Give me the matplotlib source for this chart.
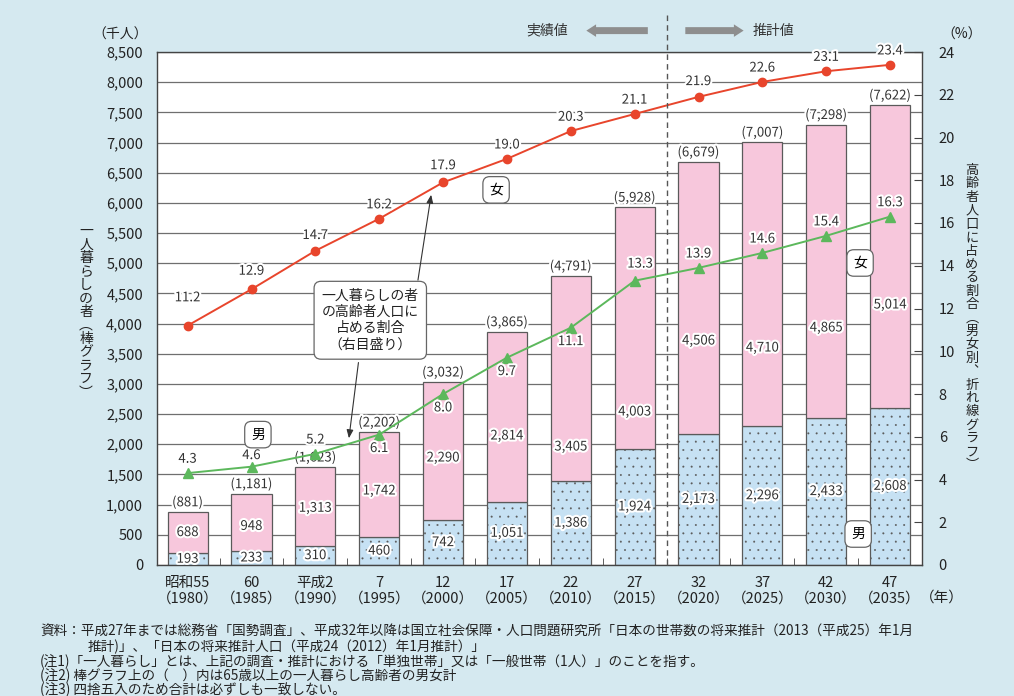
import matplotlib
matplotlib.use("Agg")
import matplotlib.pyplot as plt
import matplotlib.patheffects as pe
import numpy as np

plt.rcParams['font.family'] = ['Noto Sans CJK JP', 'DejaVu Sans']
plt.rcParams['hatch.color'] = '#b3c9db'
plt.rcParams['hatch.linewidth'] = 0.2

# data
years = ["昭和55\n（1980）", "60\n（1985）", "平成2\n（1990）", "7\n（1995）", "12\n（2000）", "17\n（2005）",
         "22\n（2010）", "27\n（2015）", "32\n（2020）", "37\n（2025）", "42\n（2030）", "47\n（2035）"]
male = [193, 233, 310, 460, 742, 1051, 1386, 1924, 2173, 2296, 2433, 2608]
female = [688, 948, 1313, 1742, 2290, 2814, 3405, 4003, 4506, 4710, 4865, 5014]
total = [881, 1181, 1623, 2202, 3032, 3865, 4791, 5928, 6679, 7007, 7298, 7622]
female_pct = [11.2, 12.9, 14.7, 16.2, 17.9, 19.0, 20.3, 21.1, 21.9, 22.6, 23.1, 23.4]
male_pct = [4.3, 4.6, 5.2, 6.1, 8.0, 9.7, 11.1, 13.3, 13.9, 14.6, 15.4, 16.3]

# label placement (layout only)
female_label_y = [537, 640, 940, 1226, 1773, 2137, 1955, 2535, 3711, 3595, 3927, 4308]
female_pct_dy = [20, 13, 11, 10, 12, 10, 10, 10, 11, 10, 10, 10]
male_pct_dy = [10, 8, 10, -10, -10, -10, -10, 12, 10, 10, 10, 10]
male_pct_dx = [0, 0, 0, 0, 0, 0, 0, 4, 0, 0, 0, 0]

PINK = '#f7c7dc'
BLUE = '#c6e1f3'
BG = '#d5e9f0'
RED = '#e8452c'
GREEN = '#5cb85c'

fig = plt.figure(figsize=(10.14, 6.96), dpi=100, facecolor=BG)
ax = fig.add_axes([157/1014, 1-565/696, (922-157)/1014, (565-52)/696])
ax.set_facecolor('white')

x = np.arange(len(years))
w = 0.63
ax.bar(x, male, w, color=BLUE, edgecolor='#5a5a5a', linewidth=0.9, hatch='..', zorder=2)
ax.bar(x, female, w, bottom=male, color=PINK, edgecolor='#5a5a5a', linewidth=0.9, zorder=2)

ax.set_ylim(0, 8500)
ax.set_xlim(-0.48, 11.5)
ax.set_yticks(np.arange(0, 8501, 500))
ax.set_yticklabels([f"{v:,}" for v in range(0, 8501, 500)], fontsize=10.5, color='#222222')
ax.yaxis.grid(True, color='#6f6f6f', linewidth=0.9, zorder=0)
ax.set_axisbelow(True)
ax.tick_params(axis='y', length=0, pad=10)
ax.set_xticks(x)
ax.set_xticklabels(years, fontsize=10.5, color='#222222', linespacing=1.15)
ax.tick_params(axis='x', length=0, pad=8)
ax.set_xticks(x[:-1] + 0.5, minor=True)
ax.tick_params(axis='x', which='minor', direction='in', length=5, color='#444444')
for s in ax.spines.values():
    s.set_color('#444444')
    s.set_linewidth(1.0)

halo = [pe.withStroke(linewidth=3, foreground='white')]
for i in range(len(x)):
    ax.text(x[i], male[i] / 2, f"{male[i]:,}", ha='center', va='center', fontsize=9.5,
            color='#333333', zorder=5, path_effects=halo)
    ax.text(x[i], female_label_y[i], f"{female[i]:,}", ha='center', va='center', fontsize=9.5,
            color='#333333', zorder=5, path_effects=halo)
    ax.text(x[i], total[i] + 150, f"({total[i]:,})", ha='center', va='center', fontsize=9.5,
            color='#333333', zorder=5, path_effects=halo)

ax2 = ax.twinx()
ax2.set_ylim(0, 24)
ax2.set_yticks(np.arange(0, 25, 2))
ax2.tick_params(axis='y', direction='in', length=6, pad=12, labelsize=10.5, colors='#444444',
                labelcolor='#222222')
for s in ax2.spines.values():
    s.set_visible(False)

ax2.plot(x, female_pct, color=RED, lw=1.4, marker='o', ms=6, zorder=4)
ax2.plot(x, male_pct, color=GREEN, lw=1.4, marker='^', ms=6.5, zorder=4)
for i in range(len(x)):
    ax2.annotate(f"{female_pct[i]:.1f}", (x[i], female_pct[i]), xytext=(0, female_pct_dy[i]),
                 textcoords='offset points', ha='center', va='center', fontsize=9.5, color='#333333',
                 path_effects=halo, zorder=6)
    ax2.annotate(f"{male_pct[i]:.1f}", (x[i], male_pct[i]), xytext=(male_pct_dx[i], male_pct_dy[i]),
                 textcoords='offset points', ha='center', va='center', fontsize=9.5, color='#333333',
                 path_effects=halo, zorder=6)

# dashed divider between actual and projected values
ax2.plot([7.5, 7.5], [0, 25.9], ls=(0, (4, 3)), color='#555555', lw=1.0, clip_on=False, zorder=7)
ax2.text(5.95, 25.0, "実績値", ha='right', va='center', fontsize=10, color='#333333')
ax2.annotate('', xy=(6.2, 25.0), xytext=(7.25, 25.0), annotation_clip=False,
             arrowprops=dict(arrowstyle='simple,head_width=0.9,head_length=0.7,tail_width=0.5',
                             color='#8e8e8e', lw=0))
ax2.annotate('', xy=(8.75, 25.0), xytext=(7.75, 25.0), annotation_clip=False,
             arrowprops=dict(arrowstyle='simple,head_width=0.9,head_length=0.7,tail_width=0.5',
                             color='#8e8e8e', lw=0))
ax2.text(8.85, 25.0, "推計値", ha='left', va='center', fontsize=10, color='#333333')

box = dict(boxstyle='round,pad=0.45,rounding_size=0.5', fc='white', ec='#666666', lw=0.9)
for tx, ty, s in [(4.83, 17.55, "女"), (10.53, 14.13, "女"), (1.1, 6.1, "男"), (10.5, 1.45, "男")]:
    ax2.text(tx, ty, s, ha='center', va='center', fontsize=10, bbox=box, zorder=8)

ax2.text(2.86, 11.45, "一人暮らしの者\nの高齢者人口に\n占める割合\n（右目盛り）", ha='center', va='center',
         fontsize=10, linespacing=1.2, color='#222222',
         bbox=dict(boxstyle='round,pad=0.55,rounding_size=0.5', fc='white', ec='#666666', lw=0.9), zorder=8)
arr = dict(arrowstyle='-|>,head_width=0.2,head_length=0.5', color='#333333', lw=0.8)
ax2.annotate('', xy=(3.82, 17.45), xytext=(3.6, 13.2), arrowprops=arr, zorder=8)
ax2.annotate('', xy=(2.52, 5.8), xytext=(2.68, 9.6), arrowprops=arr, zorder=8)

# axis captions
fig.text(120/1014, 1-35/696, "（千人）", ha='center', va='center', fontsize=10, color='#222222')
fig.text(962/1014, 1-35/696, "（%）", ha='center', va='center', fontsize=10, color='#222222')
fig.text(942/1014, 1-598/696, "（年）", ha='center', va='center', fontsize=10.5, color='#222222')
left_label = "一人暮らしの者︵棒グラフ︶"
right_label = "高齢者人口に占める割合︵男女別︑折れ線グラフ︶"
fig.text(86/1014, 1-312/696, "\n".join(left_label), ha='center', va='center',
         fontsize=10, linespacing=0.95, color='#222222')
fig.text(972/1014, 1-318/696, "\n".join(right_label), ha='center', va='center',
         fontsize=9.5, linespacing=1.04, color='#222222')

notes = [
    (40, 632, "資料：平成27年までは総務省「国勢調査」、平成32年以降は国立社会保障・人口問題研究所「日本の世帯数の将来推計（2013（平成25）年1月"),
    (88, 647, "推計)」、「日本の将来推計人口（平成24（2012）年1月推計）」"),
    (40, 662, "(注1)「一人暮らし」とは、上記の調査・推計における「単独世帯」又は「一般世帯（1人）」のことを指す。"),
    (40, 676, "(注2) 棒グラフ上の（　）内は65歳以上の一人暮らし高齢者の男女計"),
    (40, 690, "(注3) 四捨五入のため合計は必ずしも一致しない。"),
]
for nx, ny, s in notes:
    fig.text(nx/1014, 1-ny/696, s, ha='left', va='center', fontsize=9.8, color='#222222')

fig.savefig("out.png", dpi=100, facecolor=BG)
